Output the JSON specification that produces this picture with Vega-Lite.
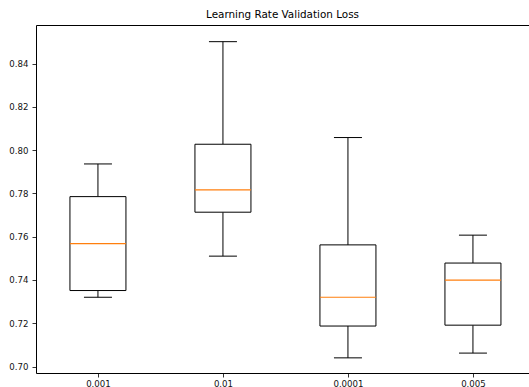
{
  "$schema": "https://vega.github.io/schema/vega-lite/v6.json",
  "autosize": {"type": "none"},
  "padding": {"left": 36, "top": 25, "right": 0, "bottom": 14},
  "width": 493,
  "height": 348,
  "background": "white",
  "config": {
    "view": {"stroke": null},
    "font": "DejaVu Sans",
    "axis": {"grid": false, "domainColor": "#000", "tickColor": "#000", "labelColor": "#111", "labelFont": "DejaVu Sans", "labelFontSize": 8.6, "tickSize": 4, "domainWidth": 1, "tickWidth": 0.8}
  },
  "title": {"text": "Learning Rate Validation Loss", "font": "DejaVu Sans", "fontSize": 10.4, "fontWeight": "normal", "color": "#000", "offset": 5},
  "data": {"values": [
    {"lr": "0.001", "lower": 0.7320, "q1": 0.7351, "median": 0.7568, "q3": 0.7785, "upper": 0.7936},
    {"lr": "0.01", "lower": 0.7510, "q1": 0.7713, "median": 0.7816, "q3": 0.8027, "upper": 0.8501},
    {"lr": "0.0001", "lower": 0.7040, "q1": 0.7187, "median": 0.7320, "q3": 0.7562, "upper": 0.8058},
    {"lr": "0.005", "lower": 0.7062, "q1": 0.7191, "median": 0.7399, "q3": 0.7478, "upper": 0.7607}
  ]},
  "resolve": {"axis": {"x": "independent"}},
  "layer": [
    {
      "mark": {"type": "rule", "color": "#000", "strokeWidth": 1},
      "encoding": {
        "x": {"field": "lr", "type": "nominal", "sort": null, "scale": {"type": "point", "padding": 0.472, "align": 0.525},
              "axis": {"orient": "bottom", "title": null, "labelAngle": 0, "labelPadding": 2}},
        "y": {"field": "lower", "type": "quantitative", "scale": {"domain": [0.697, 0.8578], "nice": false, "zero": false},
              "axis": {"title": null, "values": [0.70, 0.72, 0.74, 0.76, 0.78, 0.80, 0.82, 0.84], "format": ".2f", "labelPadding": 4}},
        "y2": {"field": "q1"}
      }
    },
    {
      "mark": {"type": "rule", "color": "#000", "strokeWidth": 1},
      "encoding": {
        "x": {"field": "lr", "type": "nominal", "sort": null,
              "axis": {"orient": "top", "title": null, "labels": false, "ticks": false, "domain": true}},
        "y": {"field": "q3", "type": "quantitative"},
        "y2": {"field": "upper"}
      }
    },
    {
      "mark": {"type": "bar", "size": 56, "fill": "white", "stroke": "#000", "strokeWidth": 1},
      "encoding": {
        "x": {"field": "lr", "type": "nominal", "sort": null, "axis": null},
        "y": {"field": "q1", "type": "quantitative"},
        "y2": {"field": "q3"}
      }
    },
    {
      "mark": {"type": "tick", "orient": "horizontal", "size": 56, "thickness": 1.2, "color": "#ff7f0e", "opacity": 1},
      "encoding": {
        "x": {"field": "lr", "type": "nominal", "sort": null, "axis": null},
        "y": {"field": "median", "type": "quantitative"}
      }
    },
    {
      "mark": {"type": "tick", "orient": "horizontal", "size": 28, "thickness": 1, "color": "#000", "opacity": 1},
      "encoding": {
        "x": {"field": "lr", "type": "nominal", "sort": null, "axis": null},
        "y": {"field": "lower", "type": "quantitative"}
      }
    },
    {
      "mark": {"type": "tick", "orient": "horizontal", "size": 28, "thickness": 1, "color": "#000", "opacity": 1},
      "encoding": {
        "x": {"field": "lr", "type": "nominal", "sort": null, "axis": null},
        "y": {"field": "upper", "type": "quantitative"}
      }
    }
  ]
}
